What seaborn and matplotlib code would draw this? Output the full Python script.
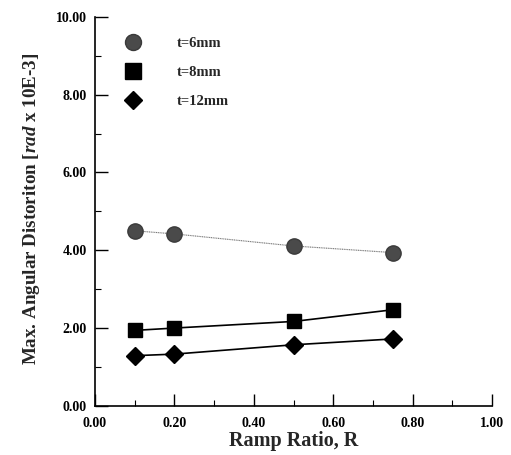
import matplotlib
matplotlib.use("Agg")
import matplotlib.pyplot as plt
import seaborn as sns
import pandas as pd
from matplotlib.ticker import MultipleLocator, FormatStrFormatter

sns.set_theme(style="ticks")
plt.rcParams["font.family"] = ["Liberation Serif", "DejaVu Serif"]
plt.rcParams["font.weight"] = "bold"
plt.rcParams["mathtext.fontset"] = "custom"
plt.rcParams["mathtext.rm"] = "Liberation Serif:bold"
plt.rcParams["mathtext.it"] = "Liberation Serif:italic:bold"
plt.rcParams["mathtext.bf"] = "Liberation Serif:bold"

ramp_ratio = [0.10, 0.20, 0.50, 0.75]
t6 = [4.50, 4.42, 4.11, 3.94]
t8 = [1.94, 2.00, 2.17, 2.47]
t12 = [1.29, 1.33, 1.57, 1.72]
series_labels = ["t=6mm", "t=8mm", "t=12mm"]

df = pd.DataFrame({
    "R": ramp_ratio * 3,
    "dist": t6 + t8 + t12,
    "series": [series_labels[0]] * 4 + [series_labels[1]] * 4 + [series_labels[2]] * 4,
})

fig = plt.figure(figsize=(5.11, 4.55), dpi=100)
ax = fig.add_axes([0.186, 0.108, 0.777, 0.855])

styles = {
    "t=6mm": dict(marker="o", ms=11, mfc="#4a4a4a", mec="#3a3a3a", color="#777777", lw=0.8, ls=(0, (1, 0.6))),
    "t=8mm": dict(marker="s", ms=10.5, mfc="black", mec="black", color="black", lw=1.2, ls="-"),
    "t=12mm": dict(marker="D", ms=9, mfc="black", mec="black", color="black", lw=1.2, ls="-"),
}

for lab in series_labels:
    sub = df[df["series"] == lab]
    st = styles[lab]
    sns.lineplot(data=sub, x="R", y="dist", ax=ax, color=st["color"], lw=st["lw"],
                 linestyle=st["ls"], legend=False)
    ax.plot(sub["R"], sub["dist"], ls="none", marker=st["marker"], ms=st["ms"],
            mfc=st["mfc"], mec=st["mec"], zorder=3)

# marker-only legend
handles = [plt.Line2D([], [], ls="none", marker=styles[l]["marker"], ms=styles[l]["ms"] + 0.5,
                      mfc=styles[l]["mfc"], mec=styles[l]["mec"]) for l in series_labels]
leg = ax.legend(handles, series_labels, loc="upper left", bbox_to_anchor=(0.025, 0.982),
                frameon=False, handletextpad=2.05, labelspacing=1.07,
                prop={"family": "Liberation Serif", "weight": "bold", "size": 10.5})

ax.set_xlim(0, 1.0)
ax.set_ylim(0, 10.0)
ax.xaxis.set_major_locator(MultipleLocator(0.2))
ax.xaxis.set_minor_locator(MultipleLocator(0.1))
ax.yaxis.set_major_locator(MultipleLocator(2.0))
ax.yaxis.set_minor_locator(MultipleLocator(1.0))
ax.xaxis.set_major_formatter(FormatStrFormatter("%.2f"))
ax.yaxis.set_major_formatter(FormatStrFormatter("%.2f"))
ax.tick_params(axis="both", which="major", direction="in", length=9, width=1.0,
               labelsize=10, colors="black")
ax.tick_params(axis="x", which="major", pad=8)
ax.tick_params(axis="y", which="major", pad=6)
ax.tick_params(axis="both", which="minor", direction="in", length=4.5, width=0.8, colors="black")
for t in ax.get_xticklabels() + ax.get_yticklabels():
    t.set_fontweight("bold")

sns.despine(ax=ax)
for s in ["left", "bottom"]:
    ax.spines[s].set_color("black")
    ax.spines[s].set_linewidth(1.2)

ax.set_xlabel("Ramp Ratio, R", fontsize=14.5, fontweight="bold", labelpad=1)
ax.set_ylabel("")
fig.text(0.062, 0.54, r"Max. Angular Distoriton [$\mathit{rad}$ x 10E-3]", rotation=90,
         ha="center", va="center", fontsize=13.7, fontweight="bold")

fig.savefig("out.png", dpi=100)
